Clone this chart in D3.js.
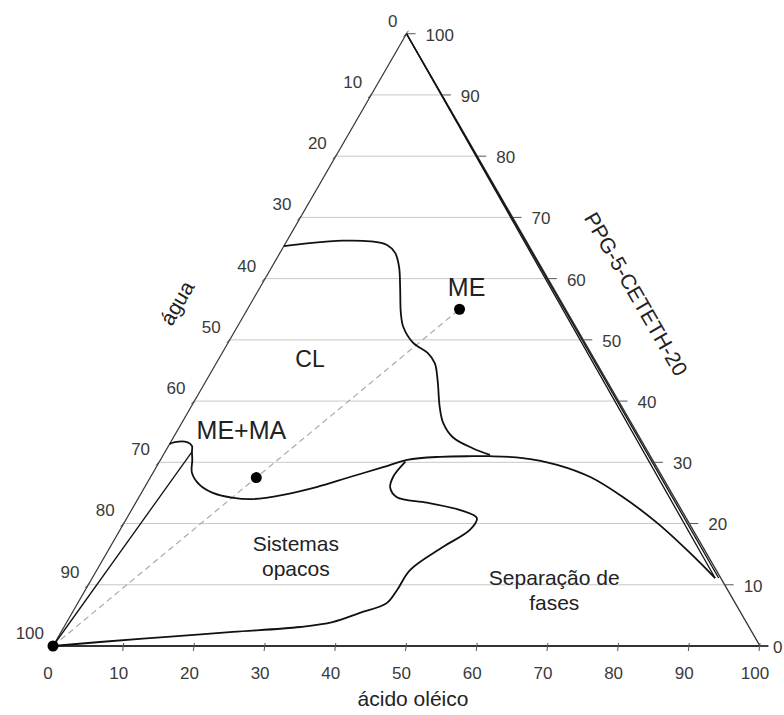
<!DOCTYPE html>
<html>
<head>
<meta charset="utf-8">
<script src="https://cdn.jsdelivr.net/npm/d3@7"></script>
<style>
  body { margin: 0; background: #fff; }
  text { font-family: "Liberation Sans", Arial, sans-serif; }
</style>
</head>
<body>
<div id="container"></div>
<script>

// Ticks for the three axes (percent)
var oleicoTicks = [0, 10, 20, 30, 40, 50, 60, 70, 80, 90, 100];
var aguaTicks = [0, 10, 20, 30, 40, 50, 60, 70, 80, 90, 100];
var ppgTicks = [0, 10, 20, 30, 40, 50, 60, 70, 80, 90, 100];
var gridLevels = [10, 20, 30, 40, 50, 60, 70, 80, 90];

// Boundaries, each point is [acido oleico, PPG-5-CETETH-20] (agua = rest)
var clBoundary = [[0, 65.3], [3.4, 65.8], [7.9, 66.2], [11.8, 66.1], [14.5, 65.5],
    [16.3, 64.2], [18.0, 61.9], [19.8, 58.6], [22.0, 54.4], [23.5, 52.1],
    [26.2, 49.5], [29.0, 47.9], [30.9, 46.2], [32.7, 43.4], [35.2, 39.0],
    [37.0, 36.4], [39.5, 34.1], [43.2, 32.3], [46.2, 31.2]];

var meMaBoundary = [[0, 33.0], [0.6, 33.3], [2.3, 33.3], [3.3, 32.7], [3.8, 31.7],
    [4.5, 30.4], [5.5, 28.3], [7.6, 26.3], [10.1, 25.0], [13.4, 24.2],
    [16.3, 24.0], [20.2, 24.7], [24.4, 26.0], [28.2, 27.6], [32.1, 29.2],
    [34.9, 30.4], [39.3, 30.9], [43.9, 31.0], [46.3, 31.0], [51.1, 30.7],
    [56.5, 29.6], [62.2, 27.6], [68.5, 24.3], [75.4, 20.1], [82.5, 15.2],
    [88.1, 11.1]];

var opacosBoundary = [[34.8, 30.1], [34.3, 27.6], [34.8, 25.8], [36.5, 24.3],
    [41.2, 23.4], [46.5, 22.2], [49.5, 20.9], [49.5, 19.0], [47.1, 16.2],
    [44.3, 12.4], [44.1, 9.2], [43.7, 7.0], [40.7, 5.4], [37.6, 3.9],
    [33.4, 3.1], [24.3, 2.3], [15.4, 1.5], [6.3, 0.65], [0, 0]];

var leftSliver = [[0, 0], [3.8, 31.7]];
var rightSliverA = [[0, 100], [88.1, 11.1]];
var rightSliverB = [[0, 100], [88.6, 11.1]];

// Formulations
var formulations = [[30, 55], [15, 27.5], [0, 0]];
var dilutionLine = [[0, 0], [30, 55]];

// Region labels, anchored at a composition [oleico, PPG]
var regionLabels = [
    {lines: ["ME"], at: [29.2, 58.6]},
    {lines: ["CL"], at: [12.9, 46.9]},
    {lines: ["ME+MA"], at: [9.0, 35.3]},
    {lines: ["Sistemas", "opacos"], at: [27.0, 14.7]},
    {lines: ["Separação de", "fases"], at: [66.3, 9.2]}
];


function drawTernary(){

    var width = 784, height = 715;
    var x0 = 53, side = 707, base = 646;

    var x = d3.scaleLinear()
        .domain([0, 100])
        .range([x0, x0 + side]);

    var y = d3.scaleLinear()
        .domain([0, 100])
        .range([base, base - side * Math.sqrt(3) / 2]);

    // ternary composition -> screen
    function px(d) { return x(d[0] + d[1] / 2); }
    function py(d) { return y(d[1]); }

    var svg = d3.select("#container").append("svg")
        .attr("width", width)
        .attr("height", height);

    var line = d3.line().x(px).y(py);
    var smooth = d3.line().x(px).y(py).curve(d3.curveCatmullRom.alpha(0.5));

    // Horizontal grid (constant PPG)
    svg.append("g")
        .selectAll("line")
        .data(gridLevels)
        .enter().append("line")
        .attr("x1", function(p) { return px([0, p]); })
        .attr("x2", function(p) { return px([100 - p, p]); })
        .attr("y1", function(p) { return y(p); })
        .attr("y2", function(p) { return y(p); })
        .style("stroke", "#c8c8c8")
        .style("stroke-width", 1);

    // Dilution line
    svg.append("path")
        .datum(dilutionLine)
        .attr("d", line)
        .style("fill", "none")
        .style("stroke", "#aaa")
        .style("stroke-width", 1.2)
        .style("stroke-dasharray", "6,4");

    // Triangle edges
    var edges = svg.append("g")
        .style("stroke", "#333")
        .style("fill", "none");

    edges.append("path")
        .datum([[0, 0], [0, 100]])
        .attr("d", line)
        .style("stroke-width", 1.2);

    edges.append("path")
        .datum([[0, 100], [100, 0]])
        .attr("d", line)
        .style("stroke-width", 1.4);

    edges.append("line")
        .attr("x1", x(0)).attr("x2", x(100) + 8)
        .attr("y1", y(0)).attr("y2", y(0))
        .style("stroke-width", 2);

    // Bottom axis (acido oleico)
    var bottom = svg.append("g");
    bottom.selectAll("line")
        .data(oleicoTicks)
        .enter().append("line")
        .attr("x1", function(d) { return x(d); })
        .attr("x2", function(d) { return x(d) - 1; })
        .attr("y1", base - 3)
        .attr("y2", base + 5)
        .style("stroke", "#555");
    bottom.selectAll("text")
        .data(oleicoTicks)
        .enter().append("text")
        .attr("x", function(d) { return x(d) - 5; })
        .attr("y", base + 33)
        .style("text-anchor", "middle")
        .style("font-size", "17px")
        .style("fill", "#3a3a3a")
        .text(function(d) { return d; });

    // Left axis (agua): agua w sits at PPG = 100 - w on the left edge
    var left = svg.append("g");
    left.selectAll("line")
        .data(aguaTicks)
        .enter().append("line")
        .attr("x1", function(d) { return px([0, 100 - d]) + 2; })
        .attr("x2", function(d) { return px([0, 100 - d]) - 3; })
        .attr("y1", function(d) { return py([0, 100 - d]) - 3; })
        .attr("y2", function(d) { return py([0, 100 - d]) + 3; })
        .style("stroke", "#555");
    left.selectAll("text")
        .data(aguaTicks)
        .enter().append("text")
        .attr("x", function(d) { return px([0, 100 - d]) - 9; })
        .attr("y", function(d) { return py([0, 100 - d]) - 13; })
        .attr("dy", ".35em")
        .style("text-anchor", "end")
        .style("font-size", "17px")
        .style("fill", "#3a3a3a")
        .text(function(d) { return d; });

    // Right axis (PPG-5-CETETH-20)
    var right = svg.append("g");
    right.selectAll("line")
        .data(ppgTicks)
        .enter().append("line")
        .attr("x1", function(d) { return px([100 - d, d]); })
        .attr("x2", function(d) { return px([100 - d, d]) + 9; })
        .attr("y1", function(d) { return y(d); })
        .attr("y2", function(d) { return y(d); })
        .style("stroke", "#555");
    right.selectAll("text")
        .data(ppgTicks)
        .enter().append("text")
        .attr("x", function(d) { return Math.min(px([100 - d, d]) + 19, width - 11); })
        .attr("y", function(d) { return y(d) + 1; })
        .attr("dy", ".35em")
        .style("font-size", "17px")
        .style("fill", "#3a3a3a")
        .text(function(d) { return d; });

    // Axis titles
    svg.append("text")
        .attr("transform", "translate(177,303) rotate(-60)")
        .attr("dy", ".35em")
        .style("text-anchor", "middle")
        .style("font-size", "21px")
        .style("fill", "#222")
        .text("água");

    svg.append("text")
        .attr("transform", "translate(636,294) rotate(60)")
        .attr("dy", ".35em")
        .style("text-anchor", "middle")
        .style("font-size", "21px")
        .style("fill", "#222")
        .text("PPG-5-CETETH-20");

    svg.append("text")
        .attr("x", 413)
        .attr("y", 706)
        .style("text-anchor", "middle")
        .style("font-size", "21px")
        .style("fill", "#222")
        .text("ácido oléico");

    // Phase boundaries
    var bounds = svg.append("g")
        .style("fill", "none")
        .style("stroke", "#111")
        .style("stroke-width", 1.8);

    [clBoundary, meMaBoundary, opacosBoundary].forEach(function(b) {
        bounds.append("path").datum(b).attr("d", smooth);
    });

    [leftSliver, rightSliverA, rightSliverB].forEach(function(b) {
        bounds.append("path").datum(b).attr("d", line)
            .style("stroke-width", 1.3);
    });

    // Formulation points
    svg.selectAll(".dot")
        .data(formulations)
        .enter().append("circle")
        .attr("class", "dot")
        .attr("cx", px)
        .attr("cy", py)
        .attr("r", 5.5)
        .style("fill", "#000");

    // Region labels
    var sizes = {"ME": 25, "CL": 23, "ME+MA": 25};
    var labels = svg.selectAll(".region")
        .data(regionLabels)
        .enter().append("text")
        .attr("class", "region")
        .style("text-anchor", "middle")
        .style("fill", "#222")
        .style("font-size", function(d) { return (sizes[d.lines[0]] || 21) + "px"; });

    labels.selectAll("tspan")
        .data(function(d) {
            return d.lines.map(function(t, i) {
                return {t: t, i: i, n: d.lines.length, at: d.at};
            });
        })
        .enter().append("tspan")
        .attr("x", function(d) { return px(d.at); })
        .attr("y", function(d) { return py(d.at) + (d.i - (d.n - 1) / 2) * 25; })
        .attr("dy", ".35em")
        .text(function(d) { return d.t; });
}

drawTernary();
</script>
</body>
</html>
